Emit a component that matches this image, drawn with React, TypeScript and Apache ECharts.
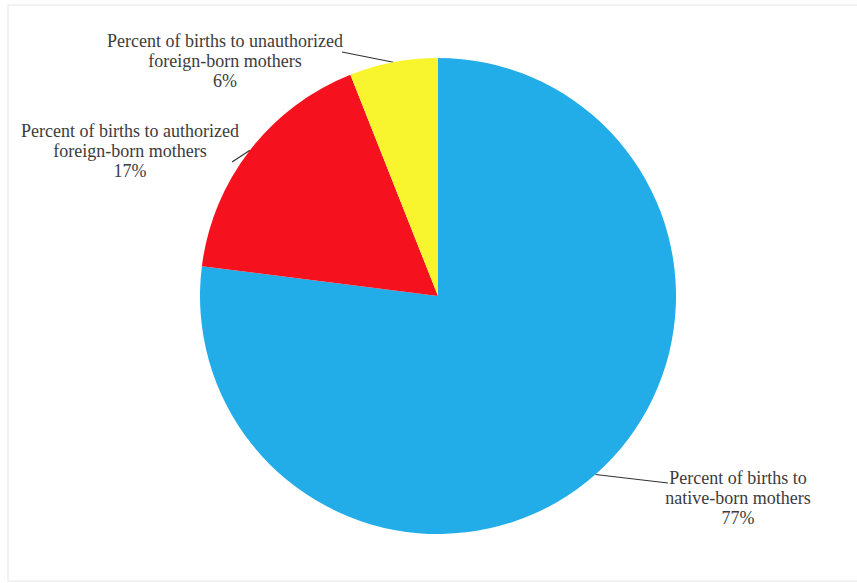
import React, { useEffect, useRef } from "react";
import * as echarts from "echarts";

const categories = [
  "Percent of births to\nnative-born mothers",
  "Percent of births to authorized\nforeign-born mothers",
  "Percent of births to unauthorized\nforeign-born mothers",
];
const values = [77, 17, 6];
const colors = ["#22ADE8", "#F5111D", "#F8F52F"];

// label block centres and leader-line ends (layout only)
const labelCenters: [number, number][] = [
  [738, 498],
  [130, 151],
  [225, 61],
];
const lineEnds: [number, number][] = [
  [668, 483],
  [232, 162],
  [342, 52],
];

export default function App() {
  const ref = useRef<HTMLDivElement>(null);
  useEffect(() => {
    if (!ref.current) return;
    const chart = echarts.init(ref.current, null, { renderer: "svg" });
    chart.setOption({
      animation: false,
      backgroundColor: "#ffffff",
      graphic: [
        {
          type: "rect",
          shape: { x: 8, y: 5, width: 900, height: 576 },
          style: { fill: "none", stroke: "#eeeeee", lineWidth: 1.5 },
          silent: true,
          z: -1,
        },
      ],
      series: [
        {
          type: "pie",
          center: [438, 296],
          radius: 238,
          startAngle: 90,
          clockwise: true,
          data: categories.map((c, i) => ({
            name: c,
            value: values[i],
            itemStyle: { color: colors[i] },
          })),
          itemStyle: { borderWidth: 0 },
          label: {
            show: true,
            position: "outside",
            formatter: (p: any) => `${p.name}\n${p.value}%`,
            fontFamily: "Liberation Serif",
            fontSize: 18,
            lineHeight: 20,
            color: "#3c3c3c",
            align: "center",
            overflow: "none",
            width: 400,
          },
          labelLine: {
            show: true,
            lineStyle: { color: "#333333", width: 1.2 },
          },
          labelLayout: (params: any) => {
            const i = params.dataIndex;
            const edge = params.labelLinePoints ? params.labelLinePoints[0] : lineEnds[i];
            return {
              x: labelCenters[i][0],
              y: labelCenters[i][1],
              align: "center",
              verticalAlign: "middle",
              labelLinePoints: [edge, lineEnds[i], lineEnds[i]],
            };
          },
        },
      ],
    });
    return () => chart.dispose();
  }, []);
  return (
    <div
      ref={ref}
      style={{ position: "fixed", left: 0, top: 0, width: 857, height: 583 }}
    />
  );
}
